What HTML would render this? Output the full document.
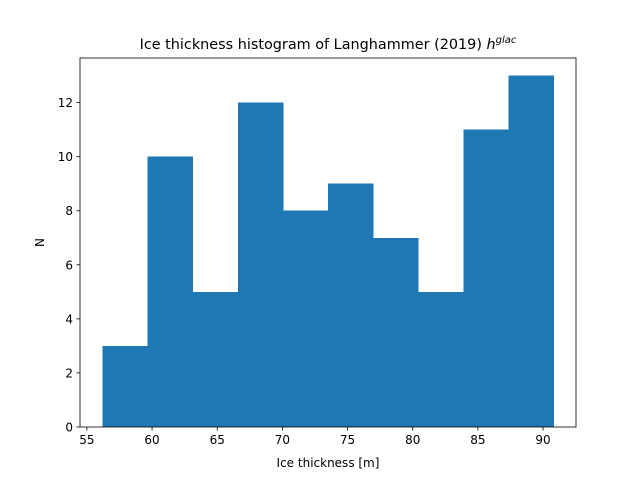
<!DOCTYPE html>
<html><head><meta charset="utf-8"><style>
html,body{margin:0;padding:0;background:#fff;}
svg text{font-family:"DejaVu Sans","Liberation Sans",sans-serif;fill:#000;}
</style></head><body>
<svg id="chart" width="640" height="480" viewBox="0 0 640 480">
<rect width="640" height="480" fill="#fff"/>
<text x="328" y="49" font-size="14.4" text-anchor="middle">Ice thickness histogram of Langhammer (2019) <tspan font-style="italic">h</tspan><tspan font-style="italic" font-size="10" dy="-6">glac</tspan></text>
<g id="bars" shape-rendering="crispEdges"></g>
<g id="xticks"></g>
<g id="yticks"></g>
<rect x="80" y="58" width="496" height="369" fill="none" stroke="#000" stroke-width="0.8"/>
<text x="328" y="467" font-size="12" text-anchor="middle">Ice thickness [m]</text>
<text x="0" y="0" font-size="12" text-anchor="middle" transform="translate(44,242.5) rotate(-90)">N</text>
</svg>
<script>
const counts = [3, 10, 5, 12, 8, 9, 7, 5, 11, 13];
const binStart = 56.2;
const binEnd = 90.8;
const xTicks = [55, 60, 65, 70, 75, 80, 85, 90];
const yTicks = [0, 2, 4, 6, 8, 10, 12];

const L = 80, R = 576, T = 58, B = 427;
const span = binEnd - binStart;
const xmin = binStart - 0.05 * span, xmax = binEnd + 0.05 * span;
const ymax = Math.max(...counts) * 1.05;
const sx = v => L + (v - xmin) / (xmax - xmin) * (R - L);
const sy = v => B - v / ymax * (B - T);
const NS = "http://www.w3.org/2000/svg";

const bars = document.getElementById('bars');
const w = span / counts.length;
counts.forEach((c, i) => {
  const r = document.createElementNS(NS, 'rect');
  const x0 = sx(binStart + i * w), x1 = sx(binStart + (i + 1) * w);
  r.setAttribute('x', x0); r.setAttribute('width', x1 - x0 + 0.5);
  r.setAttribute('y', sy(c)); r.setAttribute('height', B - sy(c));
  r.setAttribute('fill', '#1f77b4');
  
  
  bars.appendChild(r);
});

const xg = document.getElementById('xticks');
xTicks.forEach(t => {
  const x = sx(t);
  const l = document.createElementNS(NS, 'line');
  l.setAttribute('x1', x); l.setAttribute('x2', x);
  l.setAttribute('y1', B); l.setAttribute('y2', B + 3.5);
  l.setAttribute('stroke', '#000'); l.setAttribute('stroke-width', '0.8');
  xg.appendChild(l);
  const tx = document.createElementNS(NS, 'text');
  tx.setAttribute('x', x); tx.setAttribute('y', B + 17);
  tx.setAttribute('font-size', '12'); tx.setAttribute('text-anchor', 'middle');
  tx.textContent = t;
  
  
  xg.appendChild(tx);
});

const yg = document.getElementById('yticks');
yTicks.forEach(t => {
  const y = sy(t);
  const l = document.createElementNS(NS, 'line');
  l.setAttribute('x1', L - 3.5); l.setAttribute('x2', L);
  l.setAttribute('y1', y); l.setAttribute('y2', y);
  l.setAttribute('stroke', '#000'); l.setAttribute('stroke-width', '0.8');
  yg.appendChild(l);
  const tx = document.createElementNS(NS, 'text');
  tx.setAttribute('x', L - 7); tx.setAttribute('y', y + 4.5);
  tx.setAttribute('font-size', '12'); tx.setAttribute('text-anchor', 'end');
  tx.textContent = t;
  
  
  yg.appendChild(tx);
});
</script>
</body></html>
